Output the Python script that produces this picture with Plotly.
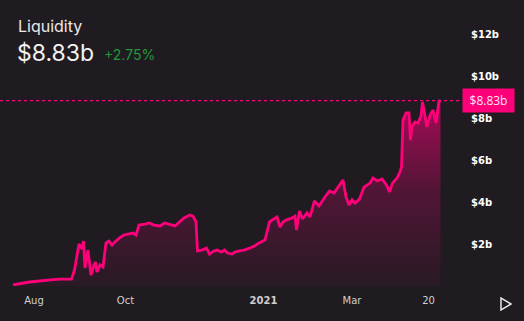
import plotly.graph_objects as go

dates = [
    "2020-07-18", "2020-07-29", "2020-08-12", "2020-08-18", "2020-08-26", "2020-08-28",
    "2020-08-31", "2020-09-02", "2020-09-03", "2020-09-04", "2020-09-06", "2020-09-07",
    "2020-09-08", "2020-09-10", "2020-09-11", "2020-09-12", "2020-09-14", "2020-09-16",
    "2020-09-18", "2020-09-20", "2020-09-22", "2020-09-24", "2020-09-27", "2020-09-30",
    "2020-10-04", "2020-10-06", "2020-10-08", "2020-10-10", "2020-10-14", "2020-10-17",
    "2020-10-20", "2020-10-24", "2020-10-27", "2020-10-30", "2020-11-03", "2020-11-06",
    "2020-11-09", "2020-11-13", "2020-11-15", "2020-11-17", "2020-11-18", "2020-11-21",
    "2020-11-24", "2020-11-26", "2020-11-29", "2020-12-01", "2020-12-04", "2020-12-06",
    "2020-12-08", "2020-12-11", "2020-12-13", "2020-12-16", "2020-12-19", "2020-12-23",
    "2020-12-26", "2020-12-29", "2021-01-02", "2021-01-05", "2021-01-08", "2021-01-10",
    "2021-01-12", "2021-01-14", "2021-01-16", "2021-01-20", "2021-01-22", "2021-01-23",
    "2021-01-25", "2021-01-27", "2021-01-30", "2021-02-01", "2021-02-04", "2021-02-07",
    "2021-02-11", "2021-02-14", "2021-02-17", "2021-02-21", "2021-02-23", "2021-02-25",
    "2021-02-27", "2021-03-01", "2021-03-03", "2021-03-06", "2021-03-09", "2021-03-13",
    "2021-03-15", "2021-03-18", "2021-03-21", "2021-03-24", "2021-03-26", "2021-03-28",
    "2021-03-31", "2021-04-02", "2021-04-03", "2021-04-04", "2021-04-06", "2021-04-08",
    "2021-04-09", "2021-04-10", "2021-04-12", "2021-04-14", "2021-04-16", "2021-04-17",
    "2021-04-18", "2021-04-20", "2021-04-22", "2021-04-24", "2021-04-26", "2021-04-28",
    "2021-04-29",
]
liquidity_b = [
    0.05, 0.19, 0.29, 0.33, 0.33, 0.76,
    2.00, 1.76, 2.14, 0.86, 1.71, 1.14,
    0.52, 1.00, 1.14, 0.67, 1.00, 0.90,
    2.05, 2.14, 1.95, 2.10, 2.29, 2.43,
    2.48, 2.52, 2.43, 2.90, 2.95, 3.00,
    2.90, 2.86, 3.00, 2.95, 2.86, 3.05,
    3.24, 3.38, 3.33, 3.05, 1.67, 1.71,
    1.81, 1.52, 1.67, 1.71, 1.62, 1.71,
    1.57, 1.52, 1.62, 1.67, 1.71, 1.81,
    1.90, 2.05, 2.19, 3.05, 3.19, 3.29,
    2.81, 3.05, 3.14, 3.24, 3.33, 2.67,
    3.57, 3.19, 3.48, 3.29, 4.05, 3.81,
    4.24, 4.52, 4.43, 4.81, 5.05, 4.24,
    3.86, 4.10, 3.95, 4.14, 4.71, 4.90,
    5.14, 5.00, 5.10, 4.81, 4.48, 4.90,
    5.14, 5.43, 5.67, 7.90, 8.24, 8.24,
    6.95, 7.57, 7.81, 7.76, 8.10, 8.76,
    8.29, 7.57, 8.14, 8.38, 7.76, 8.81,
    8.83,
]

x_tick_vals = ["2020-08-01", "2020-10-01", "2021-01-01", "2021-03-01", "2021-04-21"]
x_tick_text = ["Aug", "Oct", "<b>2021</b>", "Mar", "20"]
y_tick_vals = [2, 4, 6, 8, 10, 12]
y_tick_text = ["$2b", "$4b", "$6b", "$8b", "$10b", "$12b"]

title = "Liquidity"
current_value = 8.83
current_label = "$8.83b"
change_label = "+2.75%"

PINK = "#ff007a"
BG = "#201b21"

fig = go.Figure()
fig.add_trace(go.Scatter(
    x=dates, y=liquidity_b, mode="lines",
    line=dict(color=PINK, width=2.8, shape="linear"),
    fill="tozeroy",
    fillgradient=dict(
        type="vertical",
        colorscale=[[0, "rgba(255,0,122,0.04)"], [0.5, "rgba(255,0,122,0.22)"], [1, "rgba(255,0,122,0.62)"]],
        start=0, stop=9,
    ),
    hoverinfo="skip", showlegend=False,
))

fig.add_shape(type="line", xref="paper", yref="y", x0=0, x1=1,
              y0=current_value, y1=current_value,
              line=dict(color=PINK, width=1.2, dash="3px,3px"))

fig.add_annotation(xref="paper", yref="y", x=1, y=current_value, xanchor="left", yanchor="middle",
                   text=current_label, showarrow=False, bgcolor=PINK, borderpad=3, width=45,
                   font=dict(family="Open Sans", size=12, color="#ffe6f2"))

W_PLOT = 462.0
H_PLOT = 286.0

def px(x):
    return x / W_PLOT

def py(y):
    return 1 - y / H_PLOT

fig.add_annotation(xref="paper", yref="paper", x=px(16), y=py(26), xanchor="left", yanchor="middle",
                   text=title, showarrow=False, font=dict(family="Inter", size=16, color="#e8e8e8"))
fig.add_annotation(xref="paper", yref="paper", x=px(15), y=py(53), xanchor="left", yanchor="middle",
                   text=current_label, showarrow=False, font=dict(family="Inter", size=23, color="#f2f2f2"))
fig.add_annotation(xref="paper", yref="paper", x=px(102), y=py(55), xanchor="left", yanchor="middle",
                   text=change_label, showarrow=False, font=dict(family="Inter", size=14, color="#1f9a3a"))

fig.add_shape(type="path", xref="paper", yref="paper",
              path=f"M {px(501)} {py(298)} L {px(501)} {py(310)} L {px(511)} {py(304)} Z",
              line=dict(color="#e8e8e8", width=1.5), fillcolor="rgba(0,0,0,0)")

fig.update_layout(
    width=524, height=321,
    margin=dict(l=0, r=524 - W_PLOT, t=0, b=321 - H_PLOT),
    paper_bgcolor=BG, plot_bgcolor=BG,
    xaxis=dict(range=["2020-07-09 08:00", "2021-05-13 08:00"], showgrid=False, zeroline=False,
               showline=False, tickvals=x_tick_vals, ticktext=x_tick_text, ticks="",
               tickfont=dict(family="DejaVu Sans", size=10, color="#cfcfcf"), ticklabelstandoff=7),
    yaxis=dict(range=[0, H_PLOT / 21.0], side="right", showgrid=False, zeroline=False,
               showline=False, tickvals=y_tick_vals, ticktext=y_tick_text, ticks="",
               tickfont=dict(family="DejaVu Sans", size=10, color="#ffffff", weight="bold"),
               ticklabelstandoff=8),
)

fig.write_html("out.html")
